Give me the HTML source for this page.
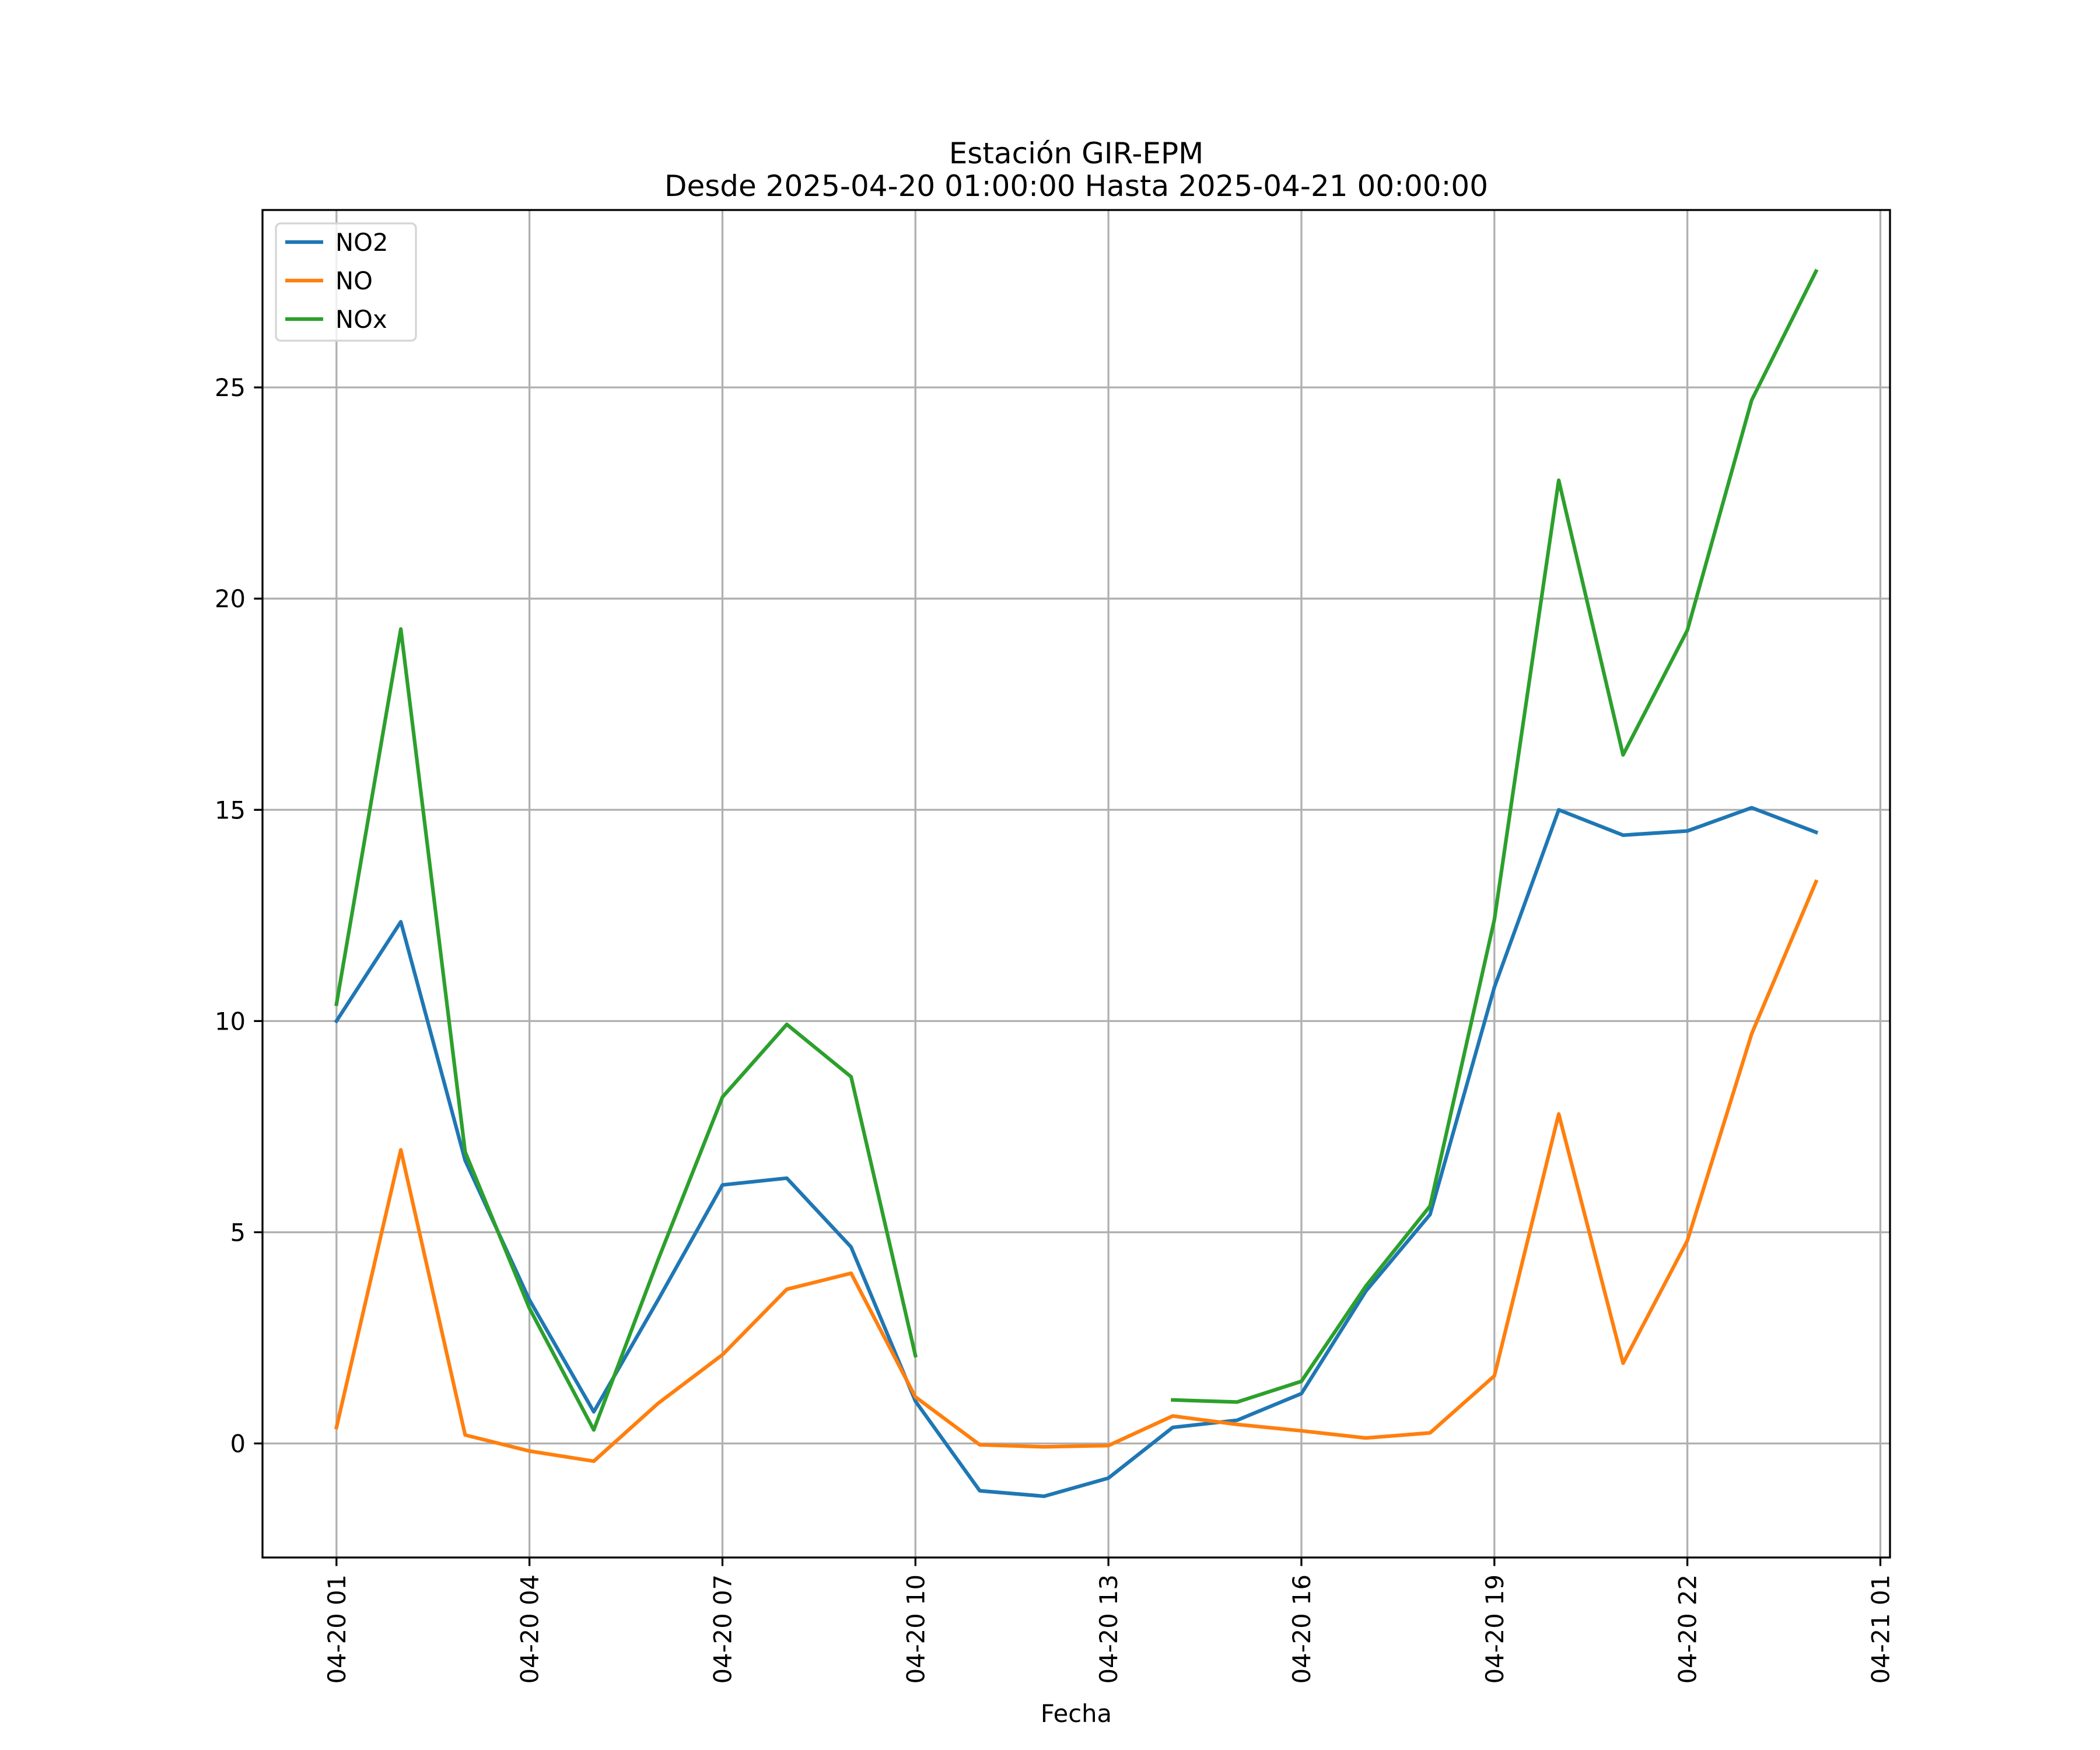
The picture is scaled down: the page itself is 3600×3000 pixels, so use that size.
<!DOCTYPE html>
<html><head><meta charset="utf-8"><style>
html,body{margin:0;padding:0;background:#fff}
svg{display:block;font-family:"DejaVu Sans","Liberation Sans",sans-serif}
</style></head><body>
<svg id="chart" width="3600" height="3000" viewBox="0 0 3600 3000" xmlns="http://www.w3.org/2000/svg">
<rect x="0" y="0" width="3600" height="3000" fill="#fff"/>
<g id="grid"></g>
<g id="series"></g>
<rect x="450" y="360" width="2790" height="2310" fill="none" stroke="#000" stroke-width="3.3"/>
<g id="ticks"></g>
<text x="1845" y="280" font-size="50" text-anchor="middle">Estación GIR-EPM</text>
<text x="1845" y="336" font-size="50" text-anchor="middle">Desde 2025-04-20 01:00:00 Hasta 2025-04-21 00:00:00</text>
<text x="1845" y="2952" font-size="41.7" text-anchor="middle">Fecha</text>
<g>
<rect x="473" y="383" width="240" height="201" rx="8" fill="#fff" fill-opacity="0.8" stroke="#d5d5d5" stroke-width="3.3"/>
<g><line x1="489" y1="415" x2="554" y2="415" stroke="#1f77b4" stroke-width="6.25"/><text x="575" y="430" font-size="41.7">NO2</text></g>
<g><line x1="489" y1="481" x2="554" y2="481" stroke="#ff7f0e" stroke-width="6.25"/><text x="575" y="496" font-size="41.7">NO</text></g>
<g><line x1="489" y1="547" x2="554" y2="547" stroke="#2ca02c" stroke-width="6.25"/><text x="575" y="562" font-size="41.7">NOx</text></g>
</g>
</svg>
<script>
const hours = [0,1,2,3,4,5,6,7,8,9,10,11,12,13,14,15,16,17,18,19,20,21,22,23];
const no2 = [10.0,12.35,6.7,3.4,0.75,3.4,6.12,6.28,4.65,1.0,-1.12,-1.25,-0.82,0.38,0.55,1.18,3.6,5.42,10.8,15.0,14.4,14.5,15.05,14.47];
const no = [0.38,6.95,0.2,-0.18,-0.42,0.95,2.1,3.65,4.03,1.1,-0.03,-0.08,-0.05,0.65,0.45,0.3,0.13,0.25,1.6,7.8,1.9,4.8,9.7,13.3];
const nox = [10.4,19.28,6.9,3.2,0.32,4.35,8.2,9.92,8.68,2.08,null,null,null,1.03,0.98,1.47,3.72,5.62,12.4,22.8,16.3,19.25,24.7,27.75];
const xTickHours = [0,3,6,9,12,15,18,21,24];
const xTickLabels = ["04-20 01","04-20 04","04-20 07","04-20 10","04-20 13","04-20 16","04-20 19","04-20 22","04-21 01"];
const yTicks = [0,5,10,15,20,25];

const L=450,R=3240,T=360,B=2670;
const xMin=-1.15,xMax=24.15,yMin=-2.7,yMax=29.2;
const X=h=>L+(h-xMin)/(xMax-xMin)*(R-L);
const Y=v=>B-(v-yMin)/(yMax-yMin)*(B-T);
const NS="http://www.w3.org/2000/svg";
function mk(tag,attrs,parent){const e=document.createElementNS(NS,tag);for(const k in attrs)e.setAttribute(k,attrs[k]);parent.appendChild(e);return e;}
const grid=document.getElementById('grid'),ticks=document.getElementById('ticks'),series=document.getElementById('series');
xTickHours.forEach((h,i)=>{
  const gl=mk('line',{x1:X(h),x2:X(h),y1:T,y2:B,stroke:'#b0b0b0','stroke-width':3.3},grid);
  
  
  const tk=mk('line',{x1:X(h),x2:X(h),y1:B,y2:B+14.6,stroke:'#000','stroke-width':3.3},ticks);
  
  
  const t=mk('text',{x:0,y:0,'font-size':41.7,'text-anchor':'end',transform:`translate(${X(h)+15},${B+29}) rotate(-90)`},ticks);
  t.textContent=xTickLabels[i];
  
  
});
yTicks.forEach(v=>{
  const gl=mk('line',{x1:L,x2:R,y1:Y(v),y2:Y(v),stroke:'#b0b0b0','stroke-width':3.3},grid);
  
  
  const tk=mk('line',{x1:L-14.6,x2:L,y1:Y(v),y2:Y(v),stroke:'#000','stroke-width':3.3},ticks);
  
  
  const t=mk('text',{x:L-29,y:Y(v)+15,'font-size':41.7,'text-anchor':'end'},ticks);
  t.textContent=String(v);
  
  
});
function draw(vals,color,name){
  let d='',pen=false;
  vals.forEach((v,i)=>{
    if(v===null){pen=false;return;}
    d+=(pen?'L':'M')+X(hours[i]).toFixed(1)+' '+Y(v).toFixed(1)+' ';pen=true;
  });
  const p=mk('path',{d:d,fill:'none',stroke:color,'stroke-width':6.25,'stroke-linejoin':'round','stroke-linecap':'square'},series);
  
  
}
draw(no2,'#1f77b4','no2-line');
draw(no,'#ff7f0e','no-line');
draw(nox,'#2ca02c','nox-line');
</script>
</body></html>
